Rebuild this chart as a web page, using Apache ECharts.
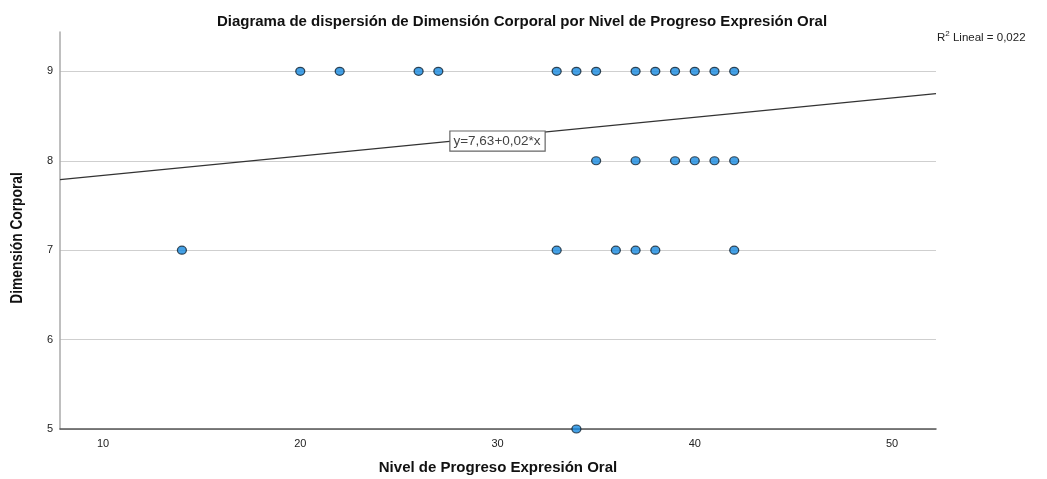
<!DOCTYPE html>
<html><head><meta charset="utf-8">
<script src="https://cdn.jsdelivr.net/npm/echarts@6/dist/echarts.min.js"></script>
<style>html,body{margin:0;padding:0;background:#fff}#c{width:1047px;height:479px}</style>
</head><body><div id="c"></div>
<script>
const titleText = 'Diagrama de dispersión de Dimensión Corporal por Nivel de Progreso Expresión Oral';
const xName = 'Nivel de Progreso Expresión Oral';
const yName = 'Dimensión Corporal';
const xTicks = [10, 20, 30, 40, 50];
const yTicks = [5, 6, 7, 8, 9];
// scatter points [x, y]
const pointsY9 = [[20,9],[22,9],[26,9],[27,9],[33,9],[34,9],[35,9],[37,9],[38,9],[39,9],[40,9],[41,9],[42,9]];
const pointsY8 = [[35,8],[37,8],[39,8],[40,8],[41,8],[42,8]];
const pointsY7 = [[14,7],[33,7],[36,7],[37,7],[38,7],[42,7]];
const pointsY5 = [[34,5]];
// fit line endpoints
const fitLine = [[7.82, 7.79], [52.23, 8.75]];
const fitLabel = 'y=7,63+0,02*x';
const fitLabelAt = [30, 8.22];
const r2Text = 'Lineal = 0,022';

const chart = echarts.init(document.getElementById('c'));
chart.setOption({
  animation: false,
  backgroundColor: '#fff',
  title: {
    text: titleText, left: 517, top: 9, textAlign: 'center',
    textStyle: {fontFamily: 'Liberation Sans', fontWeight: 'bold', fontSize: 15, color: '#111'}
  },
  graphic: [{
    type: 'text', x: 937, y: 28,
    style: {
      text: '{s|R}{u|2}{a| ' + r2Text + '}',
      rich: {
        s: {fontFamily: 'Liberation Sans', fontSize: 11.5, fill: '#222', lineHeight: 15, padding: [4, 0, 0, 0]},
        a: {fontFamily: 'Liberation Sans', fontSize: 11.5, fill: '#222', lineHeight: 15, padding: [4, 0, 0, 0]},
        u: {fontFamily: 'Liberation Sans', fontSize: 8, fill: '#222', lineHeight: 15, padding: [0, 0, 4, 0]}
      }
    }
  }, {
    type: 'text', x: 18, y: 238, rotation: Math.PI / 2, scaleX: 0.86,
    style: {
      text: yName, align: 'center', verticalAlign: 'middle',
      font: 'bold 16px "Liberation Sans"', fill: '#111'
    }
  }],
  grid: {left: 60, right: 111, top: 32, bottom: 50, outerBoundsMode: 'none', containLabel: false},
  xAxis: {
    type: 'value', min: 7.82, max: 52.23,
    name: xName, nameLocation: 'middle', nameGap: 31,
    nameTextStyle: {fontFamily: 'Liberation Sans', fontWeight: 'bold', fontSize: 15, color: '#111'},
    axisLine: {show: true, onZero: false, lineStyle: {color: '#555', width: 1.5}},
    axisTick: {show: false, customValues: xTicks},
    axisLabel: {customValues: xTicks, fontFamily: 'Liberation Sans', fontSize: 11, color: '#222', margin: 9},
    splitLine: {show: false}
  },
  yAxis: {
    type: 'value', min: 5, max: 9.44,
    axisLine: {show: true, onZero: false, lineStyle: {color: '#aaa', width: 1.5}},
    axisTick: {show: false, customValues: yTicks},
    axisLabel: {customValues: yTicks, fontFamily: 'Liberation Sans', fontSize: 11, color: '#222', margin: 7},
    splitLine: {show: true, lineStyle: {color: '#cfcfcf', width: 1.2}}
  },
  series: [
    {
      type: 'line', data: fitLine, symbol: 'none', silent: true,
      lineStyle: {color: '#333', width: 1.3}, z: 2,
      markPoint: {
        symbol: 'rect', symbolSize: 0,
        data: [{coord: fitLabelAt, value: fitLabel}],
        label: {
          show: true, position: 'inside', formatter: fitLabel,
          fontFamily: 'Liberation Sans', fontSize: 13.5, color: '#444',
          backgroundColor: '#fff', borderColor: '#666', borderWidth: 1.2, padding: [3, 4, 2, 3]
        }
      }
    },
    ...[pointsY9, pointsY8, pointsY7, pointsY5].map(d => ({
      type: 'scatter', data: d, symbol: 'circle', symbolSize: [9, 8], z: 3,
      itemStyle: {color: '#1689e0', borderColor: '#10202e', borderWidth: 1.2}
    }))
  ]
});
</script></body></html>
